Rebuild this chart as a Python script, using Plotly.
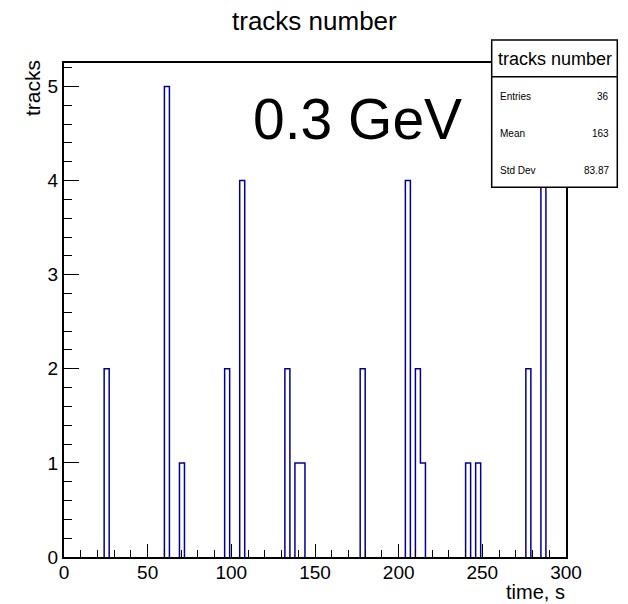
import plotly.graph_objects as go

# ---- data ----
bin_width = 3
n_bins = 100
bin_lo = [24, 60, 69, 96, 105, 132, 138, 141, 177, 204, 210, 213, 240, 246, 276, 285]
counts = [2, 5, 1, 2, 4, 2, 1, 1, 2, 4, 2, 1, 1, 1, 2, 5]
stat_names = ["Entries", "Mean", "Std Dev"]
stat_values = ["36", "163", "83.87"]
x_ticks = [0, 50, 100, 150, 200, 250, 300]
y_ticks = [0, 1, 2, 3, 4, 5]

full = [0] * n_bins
for lo, c in zip(bin_lo, counts):
    full[lo // bin_width] = c

# step outline for runs of non-zero bins (baseline hidden under the axis in the reference)
xs, ys = [], []
i = 0
while i < n_bins:
    if full[i] == 0:
        i += 1
        continue
    j = i
    xs.append(i * bin_width)
    ys.append(0)
    while j < n_bins and full[j] != 0:
        xs += [j * bin_width, (j + 1) * bin_width]
        ys += [full[j], full[j]]
        j += 1
    xs += [j * bin_width, None]
    ys += [0, None]
    i = j

W, H = 628, 604
L, R, T, B = 64, 566, 63, 557


def px(xp):
    return (xp - L) / (R - L)


def py(yp):
    return (B - yp) / (B - T)


FONT = "Liberation Sans, Arial, Helvetica, sans-serif"

fig = go.Figure()
fig.add_trace(go.Scatter(x=xs, y=ys, mode="lines", line=dict(color="#000099", width=1.5),
                         connectgaps=False, hoverinfo="skip", showlegend=False))

axis_common = dict(showgrid=False, zeroline=False, showline=True, linecolor="black", linewidth=2,
                   mirror=True, ticks="inside", tickcolor="black", tickwidth=1,
                   tickfont=dict(family=FONT, size=19, color="black"))

fig.update_xaxes(range=[0, 300], tickvals=x_ticks, ticklen=13, ticklabelstandoff=-3,
                 minor=dict(dtick=10, ticks="inside", ticklen=7, tickcolor="black", tickwidth=1),
                 **axis_common)
fig.update_yaxes(range=[0, 5.25], tickvals=y_ticks, ticklen=15,
                 minor=dict(dtick=0.2, ticks="inside", ticklen=8, tickcolor="black", tickwidth=1),
                 **axis_common)

ann = []
ann.append(dict(text="tracks number", x=px(314.5), y=py(21), xref="paper", yref="paper",
                xanchor="center", yanchor="middle", showarrow=False,
                font=dict(family=FONT, size=26, color="black")))
ann.append(dict(text="0.3 GeV", x=px(357), y=py(118.5), xref="paper", yref="paper",
                xanchor="center", yanchor="middle", showarrow=False,
                font=dict(family=FONT, size=57, color="black")))
ann.append(dict(text="tracks", x=px(32), y=py(58), xref="paper", yref="paper", textangle=-90,
                xanchor="center", yanchor="top", showarrow=False,
                font=dict(family=FONT, size=21, color="black")))
ann.append(dict(text="time, s", x=px(567), y=py(592), xref="paper", yref="paper",
                xanchor="right", yanchor="middle", showarrow=False,
                font=dict(family=FONT, size=20, color="black")))

# stats box
bx0, bx1, by0, by1, bsep = 491.7, 617.3, 40, 187.3, 76.7
shapes = [
    dict(type="rect", xref="paper", yref="paper", x0=px(bx0), x1=px(bx1), y0=py(by1), y1=py(by0),
         line=dict(color="black", width=1.5), fillcolor="white", layer="above"),
    dict(type="line", xref="paper", yref="paper", x0=px(bx0), x1=px(bx1), y0=py(bsep), y1=py(bsep),
         line=dict(color="black", width=1.5), layer="above"),
]
ann.append(dict(text="tracks number", x=px((bx0 + bx1) / 2), y=py(58.5), xref="paper", yref="paper",
                xanchor="center", yanchor="middle", showarrow=False,
                font=dict(family=FONT, size=18, color="black")))
row_y = [96.7, 133.3, 170]
for name, val, yy in zip(stat_names, stat_values, row_y):
    ann.append(dict(text=name, x=px(498), y=py(yy), xref="paper", yref="paper",
                    xanchor="left", yanchor="middle", showarrow=False,
                    font=dict(family=FONT, size=10, color="black")))
    ann.append(dict(text=val, x=px(610.5), y=py(yy), xref="paper", yref="paper",
                    xanchor="right", yanchor="middle", showarrow=False,
                    font=dict(family=FONT, size=10, color="black")))

fig.update_layout(width=W, height=H, margin=dict(l=L, r=W - R, t=T, b=H - B, autoexpand=False),
                  paper_bgcolor="white", plot_bgcolor="white", annotations=ann, shapes=shapes,
                  showlegend=False)

fig.write_html("out.html", config={"displayModeBar": False},
               post_script="document.body.style.margin='0';document.body.style.overflow='hidden';")
